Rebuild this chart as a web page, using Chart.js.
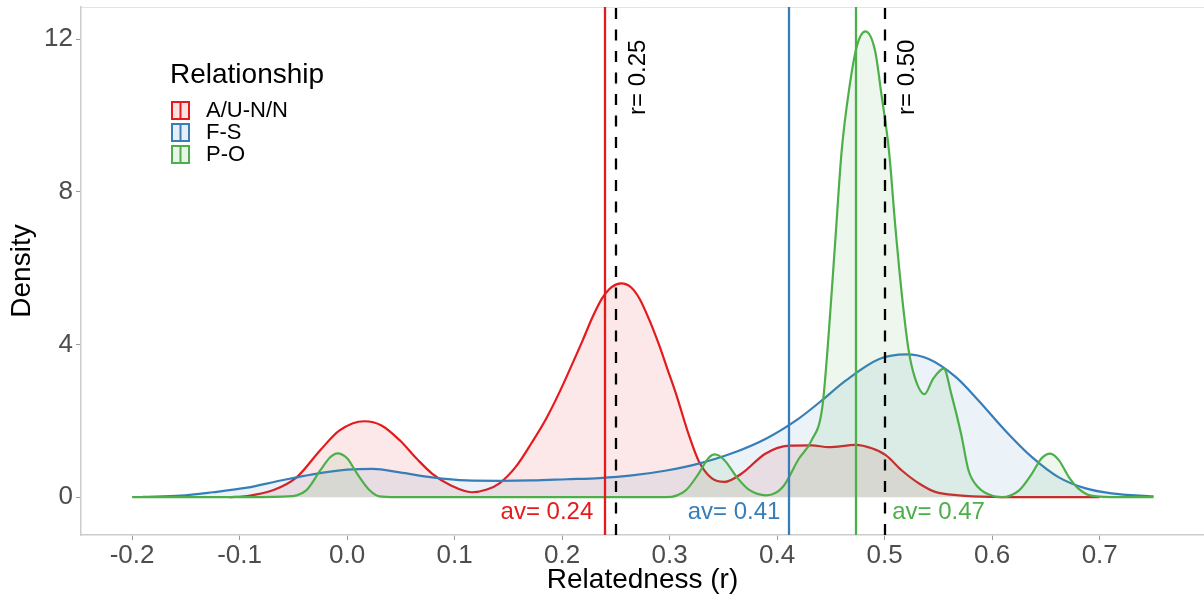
<!DOCTYPE html>
<html lang="en">
  <head>
    <meta charset="UTF-8" />
    <title>Relatedness density</title>
    <script src="https://cdn.jsdelivr.net/npm/chart.js"></script>
    <style>
      body {
        margin: 0;
        background-color: #ffffff;
      }
      canvas {
        display: block;
      }
    </style>
  </head>
  <body>
    <canvas id="myChart" width="1204" height="600"></canvas>
    <script>
      // groups and their colours
      const groups = ["A/U-N/N", "F-S", "P-O"];
      const groupColors = ["#E41A1C", "#377EB8", "#4DAF4A"];

      // density curve of A/U-N/N
      const redR = [-0.11, -0.093, -0.069, -0.047, -0.025, -0.007, 0.016, 0.032, 0.049, 0.065, 0.079, 0.097, 0.116, 0.13, 0.142, 0.157, 0.172, 0.185, 0.197, 0.208, 0.219, 0.228, 0.237, 0.246, 0.255, 0.264, 0.272, 0.281, 0.29, 0.298, 0.306, 0.318, 0.327, 0.339, 0.351, 0.367, 0.389, 0.411, 0.432, 0.448, 0.473, 0.488, 0.501, 0.516, 0.532, 0.547, 0.569, 0.6, 0.65, 0.7];
      const redDensity = [0, 0.03, 0.18, 0.52, 1.23, 1.75, 1.99, 1.88, 1.49, 1.0, 0.62, 0.3, 0.13, 0.2, 0.37, 0.8, 1.44, 2.05, 2.72, 3.4, 4.1, 4.7, 5.2, 5.5, 5.6, 5.5, 5.2, 4.65, 4.0, 3.35, 2.7, 1.62, 0.95, 0.5, 0.4, 0.62, 1.14, 1.35, 1.36, 1.31, 1.37, 1.28, 1.1, 0.7, 0.36, 0.14, 0.05, 0.01, 0, 0];

      // density curve of F-S
      const blueR = [-0.19, -0.155, -0.125, -0.093, -0.063, -0.032, 0.0, 0.024, 0.049, 0.079, 0.111, 0.142, 0.172, 0.204, 0.235, 0.265, 0.297, 0.327, 0.358, 0.39, 0.42, 0.44, 0.464, 0.495, 0.52, 0.541, 0.566, 0.587, 0.612, 0.637, 0.662, 0.687, 0.711, 0.75];
      const blueDensity = [0.01, 0.04, 0.13, 0.25, 0.43, 0.6, 0.72, 0.74, 0.65, 0.52, 0.44, 0.43, 0.44, 0.47, 0.5, 0.57, 0.7, 0.88, 1.15, 1.54, 2.06, 2.5, 3.06, 3.62, 3.74, 3.62, 3.15, 2.54, 1.75, 1.05, 0.52, 0.23, 0.1, 0.02];

      // density curve of P-O
      const greenR = [-0.2, -0.1, -0.056, -0.038, -0.025, -0.016, -0.009, 0.0, 0.009, 0.021, 0.03, 0.045, 0.1, 0.2, 0.297, 0.315, 0.327, 0.336, 0.342, 0.351, 0.362, 0.374, 0.39, 0.405, 0.42, 0.432, 0.442, 0.448, 0.454, 0.46, 0.467, 0.474, 0.482, 0.491, 0.497, 0.504, 0.51, 0.516, 0.522, 0.528, 0.537, 0.545, 0.555, 0.562, 0.571, 0.578, 0.587, 0.6, 0.609, 0.625, 0.637, 0.646, 0.654, 0.662, 0.671, 0.68, 0.692, 0.72, 0.75];
      const greenDensity = [0, 0, 0.02, 0.18, 0.7, 1.04, 1.15, 1.02, 0.63, 0.18, 0.02, 0, 0, 0, 0, 0.18, 0.62, 1.02, 1.12, 0.97, 0.54, 0.19, 0.05, 0.26, 1.0, 1.49, 2.36, 4.3, 6.7, 9.07, 10.7, 11.8, 12.2, 11.7, 10.55, 9.07, 7.06, 5.3, 3.9, 3.14, 2.7, 3.1, 3.37, 2.7, 1.67, 0.7, 0.26, 0.04, 0, 0.18, 0.62, 1.02, 1.14, 0.97, 0.54, 0.23, 0.04, 0, 0];

      // group means and expected relatedness
      const groupMeans = [0.24, 0.411, 0.473];
      const expectedR = [0.25, 0.5];

      // tick labels
      const xTicks = [-0.2, -0.1, 0.0, 0.1, 0.2, 0.3, 0.4, 0.5, 0.6, 0.7];
      const yTicks = [0, 4, 8, 12];

      const FONT = "'Liberation Sans', Arial, sans-serif";

      function rgba(hex, a) {
        const n = parseInt(hex.slice(1), 16);
        return "rgba(" + (n >> 16) + "," + ((n >> 8) & 255) + "," + (n & 255) + "," + a + ")";
      }

      function toPoints(xs, ys) {
        return xs.map((x, i) => ({ x: x, y: ys[i] }));
      }

      const curves = [
        toPoints(redR, redDensity),
        toPoints(blueR, blueDensity),
        toPoints(greenR, greenDensity),
      ];

      // where the text annotations sit (data units)
      const avLabelSpots = [
        { x: 0.229, y: -0.4, align: "right" },
        { x: 0.403, y: -0.4, align: "right" },
        { x: 0.507, y: -0.4, align: "left" },
      ];
      const rLabelSpots = [
        { x: 0.2705, y: 11 },
        { x: 0.5215, y: 11 },
      ];

      const decorPlugin = {
        id: "decor",
        beforeDraw(chart) {
          const c = chart.ctx;
          const a = chart.chartArea;
          c.save();
          c.fillStyle = "#ffffff";
          c.fillRect(0, 0, chart.width, chart.height);
          // light top border of the panel
          c.strokeStyle = "#e3e3e3";
          c.lineWidth = 1;
          c.beginPath();
          c.moveTo(a.left, a.top + 0.5);
          c.lineTo(a.right, a.top + 0.5);
          c.stroke();
          c.restore();
        },
        afterDatasetsDraw(chart) {
          const c = chart.ctx;
          const a = chart.chartArea;
          const xs = chart.scales.x;
          const ys = chart.scales.y;
          c.save();
          c.lineWidth = 2.3;
          // mean lines
          groupMeans.forEach((m, i) => {
            const px = Math.round(xs.getPixelForValue(m));
            c.strokeStyle = groupColors[i];
            c.setLineDash([]);
            c.beginPath();
            c.moveTo(px, a.top);
            c.lineTo(px, a.bottom);
            c.stroke();
          });
          // expected relatedness
          expectedR.forEach((r) => {
            const px = Math.round(xs.getPixelForValue(r));
            c.strokeStyle = "#000000";
            c.setLineDash([11, 10.5]);
            c.beginPath();
            c.moveTo(px, a.bottom);
            c.lineTo(px, a.top);
            c.stroke();
          });
          c.setLineDash([]);

          // av labels
          c.font = "24px " + FONT;
          c.textBaseline = "middle";
          groupMeans.forEach((m, i) => {
            const s = avLabelSpots[i];
            c.fillStyle = groupColors[i];
            c.textAlign = s.align;
            c.fillText("av= " + m.toFixed(2), xs.getPixelForValue(s.x), ys.getPixelForValue(s.y));
          });

          // r labels, rotated
          c.fillStyle = "#000000";
          expectedR.forEach((r, i) => {
            const s = rLabelSpots[i];
            c.save();
            c.translate(xs.getPixelForValue(s.x), ys.getPixelForValue(s.y));
            c.rotate(-Math.PI / 2);
            c.textAlign = "center";
            c.textBaseline = "middle";
            c.fillText("r= " + r.toFixed(2), 0, 0);
            c.restore();
          });
          c.restore();
        },
        afterDraw(chart) {
          const c = chart.ctx;
          const a = chart.chartArea;
          c.save();
          // axis titles
          c.fillStyle = "#000000";
          c.font = "28px " + FONT;
          c.textAlign = "center";
          c.textBaseline = "middle";
          c.fillText("Relatedness (r)", (a.left + a.right) / 2, 580);
          c.save();
          c.translate(22, (a.top + a.bottom) / 2);
          c.rotate(-Math.PI / 2);
          c.fillText("Density", 0, 0);
          c.restore();

          // legend
          c.textAlign = "left";
          c.textBaseline = "alphabetic";
          c.font = "28px " + FONT;
          c.fillText("Relationship", 170, 83);
          c.font = "22px " + FONT;
          c.textBaseline = "middle";
          groups.forEach((g, i) => {
            const top = 102 + i * 22;
            c.fillStyle = "#ffffff";
            c.fillRect(172, top, 17, 17);
            c.fillStyle = rgba(groupColors[i], 0.12);
            c.fillRect(172, top, 17, 17);
            c.strokeStyle = groupColors[i];
            c.lineWidth = 2;
            c.strokeRect(172, top, 17, 17);
            c.beginPath();
            c.moveTo(180.5, top);
            c.lineTo(180.5, top + 17);
            c.stroke();
            c.fillStyle = "#000000";
            c.fillText(g, 206, top + 9);
          });
          c.restore();
        },
      };

      const ctx = document.getElementById("myChart").getContext("2d");
      const myChart = new Chart(ctx, {
        type: "line",
        data: {
          datasets: curves.map((pts, i) => ({
            label: groups[i],
            data: pts,
            borderColor: groupColors[i],
            backgroundColor: rgba(groupColors[i], 0.1),
            borderWidth: 2.2,
            fill: "origin",
            pointRadius: 0,
            cubicInterpolationMode: "monotone",
            order: 3 - i,
          })),
        },
        options: {
          responsive: false,
          animation: false,
          layout: { padding: { top: 7, right: 0, bottom: 0, left: 0 } },
          plugins: {
            legend: { display: false },
            tooltip: { enabled: false },
          },
          scales: {
            x: {
              type: "linear",
              min: -0.2475,
              max: 0.797,
              afterBuildTicks: (s) => {
                s.ticks = xTicks.map((v) => ({ value: v }));
              },
              afterFit: (s) => {
                s.height = 65;
                s.paddingLeft = 0;
                s.paddingRight = 0;
              },
              ticks: {
                callback: (v) => v.toFixed(1),
                font: { size: 26, family: FONT },
                color: "#4d4d4d",
                padding: 0,
                maxRotation: 0,
                autoSkip: false,
              },
              grid: { drawOnChartArea: false, tickLength: 5, color: "#9a9a9a" },
              border: { color: "#cccccc", width: 1.5 },
            },
            y: {
              min: -0.99,
              max: 12.84,
              afterBuildTicks: (s) => {
                s.ticks = yTicks.map((v) => ({ value: v }));
              },
              afterFit: (s) => {
                s.width = 81;
                s.paddingTop = 0;
                s.paddingBottom = 0;
              },
              ticks: {
                font: { size: 26, family: FONT },
                color: "#4d4d4d",
                padding: 3,
              },
              grid: { drawOnChartArea: false, tickLength: 5, color: "#9a9a9a" },
              border: { color: "#cccccc", width: 1.5 },
            },
          },
        },
        plugins: [decorPlugin],
      });
    </script>
  </body>
</html>
